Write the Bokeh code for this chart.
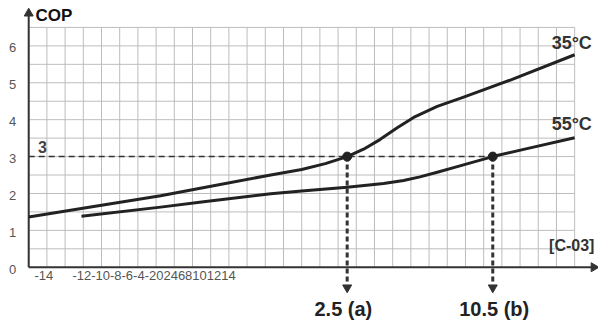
import numpy as np
from bokeh.plotting import figure
from bokeh.models import Range1d
from bokeh.core.properties import value
from bokeh.embed import file_html
from bokeh.resources import INLINE

# ---- data ----
x35 = [-15, -11, -7.75, -5.5, -1.7, 0, 1.3, 2.5, 3.4, 4.3, 5.25, 6.15, 7.45, 8.9, 11.5, 15]
y35 = [1.36, 1.68, 1.94, 2.15, 2.5, 2.65, 2.81, 3.0, 3.2, 3.46, 3.78, 4.06, 4.36, 4.61, 5.08, 5.76]
x55 = [-12.1, -7.75, -5.5, -1.7, 0, 2.5, 4.5, 5.6, 6.5, 7.5, 8.5, 10.5, 12.5, 15]
y55 = [1.38, 1.63, 1.77, 1.99, 2.07, 2.17, 2.27, 2.35, 2.45, 2.58, 2.72, 3.0, 3.23, 3.51]
series_labels = ["35°C", "55°C"]
cop_target = 3
marked_x = [2.5, 10.5]
marked_labels = ["2.5 (a)", "10.5 (b)"]
y_ticks = [0, 1, 2, 3, 4, 5, 6]
y_tick_labels = ["0", "1", "2", "3", "4", "5", "6"]
x_tick_pos = [-14, -12.6]
x_tick_labels = ["-14", "-12-10-8-6-4-202468101214"]
x_axis_title = "[C-03]"
y_axis_title = "COP"

XMIN, XMAX = -15, 15
YMIN, YMAX = 0, 6.5

p = figure(width=598, height=321, frame_width=598, frame_height=321,
           x_range=Range1d(-16.55, 16.31), y_range=Range1d(-1.47, 7.23),
           output_backend="svg", toolbar_location=None,
           x_axis_location=None, y_axis_location=None, min_border=0)
p.grid.visible = False
p.outline_line_color = None
p.background_fill_color = "white"

FONT = value("Liberation Sans")

# grid
gx = np.arange(XMIN, XMAX + 1, 1)
p.segment(x0=gx, y0=[YMIN] * len(gx), x1=gx, y1=[YMAX] * len(gx),
          line_color="#bdbdbd", line_width=1)
gy = np.arange(0.5, YMAX + 0.25, 0.5)
p.segment(x0=[XMIN] * len(gy), y0=gy, x1=[XMAX] * len(gy), y1=gy,
          line_color="#bdbdbd", line_width=1)

# axes with arrows
p.line([XMIN, XMIN], [0, 6.9], line_color="#333333", line_width=2)
p.line([XMIN, 16.0], [0, 0], line_color="#333333", line_width=2)
p.scatter([XMIN], [6.88], marker="triangle", size=9, color="#333333")
p.scatter([16.05], [0], marker="triangle", angle=-np.pi / 2, size=9, color="#333333")

# dashed guides
p.line([XMIN, marked_x[1]], [cop_target, cop_target], line_color="#333333",
       line_width=1.5, line_dash="6 4")
for mx in marked_x:
    p.line([mx, mx], [cop_target, -0.45], line_color="#333333", line_width=3,
           line_dash="5 3")
p.scatter(marked_x, [-0.55] * 2, marker="inverted_triangle", size=9, color="#333333")

# curves
p.line(x35, y35, line_color="#222222", line_width=3, line_join="round")
p.line(x55, y55, line_color="#222222", line_width=3, line_join="round")
p.scatter(marked_x, [cop_target] * 2, size=9, color="#222222")

# tick labels
p.text(x=[-15.89] * len(y_ticks), y=[v - 0.05 for v in y_ticks], text=y_tick_labels,
       text_font=FONT, text_font_size="13px", text_color="#555555",
       text_align="center", text_baseline="middle")
p.text(x=[x_tick_pos[0]], y=[-0.23], text=[x_tick_labels[0]], x_offset=-3,
       text_font=FONT, text_font_size="13px", text_color="#555555",
       text_align="center", text_baseline="middle")
p.text(x=[x_tick_pos[1]], y=[-0.23], text=[x_tick_labels[1]],
       text_font=FONT, text_font_size="13px", text_color="#555555",
       text_align="left", text_baseline="middle")

# titles / annotations
p.text(x=[-14.63], y=[6.82], text=[y_axis_title], text_font=FONT,
       text_font_size="17px", text_font_style="bold", text_color="#111111",
       text_align="left", text_baseline="middle")
p.text(x=[-14.24], y=[3.27], text=[str(cop_target)], text_font=FONT,
       text_font_size="16px", text_font_style="bold", text_color="#444444",
       text_align="center", text_baseline="middle")
p.text(x=[14.84, 14.84], y=[6.09, 3.89], text=series_labels, text_font=FONT,
       text_font_size="18px", text_font_style="bold", text_color="#333333",
       text_align="center", text_baseline="middle")
p.text(x=[14.84], y=[0.59], text=[x_axis_title], text_font=FONT,
       text_font_size="16px", text_font_style="bold", text_color="#333333",
       text_align="center", text_baseline="middle")
p.text(x=[2.29, 10.58], y=[-1.12, -1.12], text=marked_labels, text_font=FONT,
       text_font_size="20px", text_font_style="bold", text_color="#222222",
       text_align="center", text_baseline="middle")

open("out.html", "w").write(file_html(p, INLINE))
